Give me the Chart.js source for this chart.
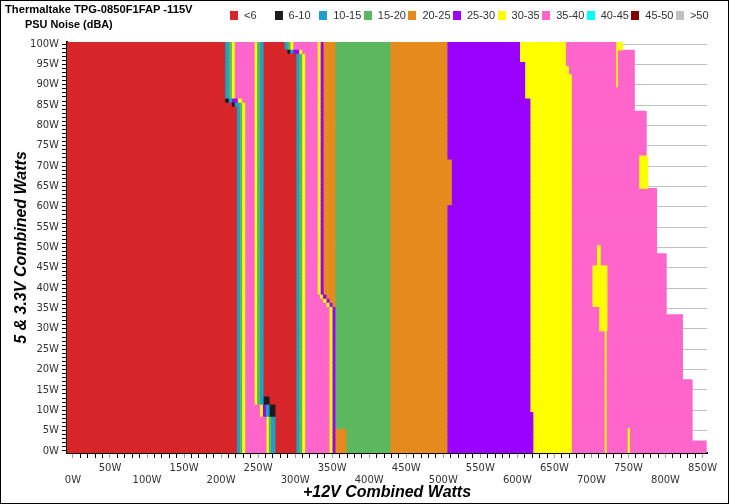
<!DOCTYPE html>
<html>
<head>
<meta charset="utf-8">
<script src="https://cdn.jsdelivr.net/npm/chart.js@4.4.1/dist/chart.umd.min.js"></script>
<style>
  html, body { margin: 0; padding: 0; background: #fff; }
  #wrap { position: relative; width: 729px; height: 504px; overflow: hidden; }
  #frame { position: absolute; left: 0; top: 0; width: 729px; height: 504px; box-sizing: border-box; border: 1px solid #000; pointer-events: none; }
  #title { position: absolute; left: 5px; top: 3px; font: bold 11.2px "Liberation Sans", Arial, sans-serif; color: #000; white-space: nowrap; }
  #subtitle { position: absolute; left: 25px; top: 18px; font: bold 10.9px "Liberation Sans", Arial, sans-serif; color: #000; white-space: nowrap; }
  #legend { position: absolute; left: 230px; top: 9px; display: flex; }
  .item { width: 44.6px; display: flex; align-items: center; font: 11px "Liberation Sans", Arial, sans-serif; color: #333; white-space: nowrap; }
  .box { width: 8px; height: 9px; margin-right: 6px; flex: none; }
</style>
</head>
<body>
<div id="wrap">
  <canvas id="myChart" width="729" height="504"></canvas>
  <div id="title">Thermaltake TPG-0850F1FAP -115V</div>
  <div id="subtitle">PSU Noise (dBA)</div>
  <div id="legend"></div>
  <div id="frame"></div>
</div>
<script>
// noise classes (dBA) and their colours
const classes = ["<6", "6-10", "10-15", "15-20", "20-25", "25-30", "30-35", "35-40", "40-45", "45-50", ">50"];
const classColors = ["#d7262a", "#1c1c1c", "#1ea0c8", "#5cb85f", "#e68a1e", "#9900ff", "#ffff00", "#ff66cc", "#00ffff", "#800000", "#c0c0c0"];

// y rows = 5V & 3.3V load (W), x = +12V load (W)
// each region: [x from, x to, first row, last row]
const noiseLt6 = [
  [-8, 205, 86, 100], [-8, 214, 85, 85], [-8, 221, 0, 84],
  [258, 285, 99, 100], [258, 289, 98, 98], [258, 301, 14, 97],
  [266, 301, 12, 13], [274, 301, 0, 11]
];
const noise6to10 = [
  [205, 210, 86, 86], [214, 218, 85, 85], [289, 293, 98, 98],
  [258, 266, 12, 13], [266, 274, 9, 11]
];
const noise10to15 = [
  [205, 210, 87, 100], [210, 214, 86, 86], [218, 224, 85, 85], [221, 225, 0, 84],
  [253, 258, 12, 100], [261, 266, 9, 11], [268, 274, 0, 8],
  [285, 289, 99, 100], [293, 297, 98, 98], [301, 305, 0, 97]
];
const noise15to20 = [
  [210, 214, 87, 100], [224, 228, 85, 85], [225, 228, 0, 84],
  [249, 253, 12, 100], [265, 268, 0, 8],
  [289, 293, 99, 100], [305, 309, 0, 97],
  [355, 428, 6, 100], [370, 428, 0, 5]
];
const noise20to25 = [
  [339, 355, 39, 100], [343, 355, 38, 38], [347, 355, 37, 37], [351, 355, 36, 36],
  [355, 370, 0, 5],
  [428, 505, 0, 100], [505, 511, 61, 71]
];
const noise25to30 = [
  [214, 222, 86, 86], [297, 305, 98, 98], [257, 261, 9, 11],
  [335, 339, 39, 100], [338, 343, 38, 38], [343, 347, 37, 37], [347, 351, 36, 36], [351, 355, 0, 35],
  [505, 603, 96, 100], [505, 610, 87, 95], [505, 617, 10, 86], [505, 621, 0, 9]
];
const noise30to35 = [
  [214, 218, 87, 100], [222, 228, 86, 86], [228, 232, 0, 85],
  [246, 249, 12, 100], [253, 257, 9, 11], [262, 265, 0, 8],
  [293, 297, 99, 100], [305, 309, 98, 98], [309, 313, 0, 97],
  [331, 335, 39, 100], [334, 338, 38, 38], [338, 343, 37, 37], [343, 347, 36, 36], [347, 351, 0, 35],
  [603, 665, 95, 100], [610, 669, 93, 94], [610, 673, 87, 92], [617, 673, 10, 86], [621, 673, 0, 9],
  [734, 742, 99, 100], [734, 735.3, 90, 98], [765, 776, 65, 72],
  [708, 712, 46, 50], [702, 721, 36, 45], [711, 721, 30, 35],
  [718.5, 719.8, 0, 29], [749.5, 751.5, 0, 5]
];
const noise35to40 = [
  [218, 246, 87, 100], [228, 246, 86, 86], [232, 246, 12, 85], [232, 253, 9, 11], [232, 262, 0, 8],
  [297, 331, 99, 100], [309, 331, 98, 98], [313, 331, 39, 97], [313, 334, 38, 38], [313, 338, 37, 37], [313, 343, 36, 36], [313, 347, 0, 35],
  [665, 734, 99, 100], [665, 758, 95, 98], [669, 758, 93, 94], [673, 758, 84, 92], [673, 774, 73, 83],
  [673, 765, 65, 72], [673, 788, 49, 64], [673, 801, 34, 48], [673, 823, 18, 33], [673, 836, 3, 17], [673, 855, 0, 2]
];
const noise40to45 = [];
const noise45to50 = [];
const noiseOver50 = [];

const regions = [noiseLt6, noise6to10, noise10to15, noise15to20, noise20to25, noise25to30,
  noise30to35, noise35to40, noise40to45, noise45to50, noiseOver50];

// rows, top to bottom
const rowValues = [];
for (let v = 100; v >= 0; v--) rowValues.push(v);

// one floating bar per row of a region
function toBars(list) {
  const out = [];
  list.forEach(([x0, x1, lo, hi]) => {
    for (let v = lo; v <= hi; v++) out.push({ x: [x0, x1], y: String(v) });
  });
  return out;
}

const tickFont = { family: "DejaVu Sans", size: 10, lineHeight: 1.2 };
const titleFont = { family: "Liberation Sans", size: 16, style: "italic", weight: "bold" };

new Chart(document.getElementById("myChart").getContext("2d"), {
  type: "bar",
  data: {
    labels: rowValues.map(String),
    datasets: classes.map((c, i) => ({
      label: c,
      data: toBars(regions[i]),
      backgroundColor: classColors[i],
      borderWidth: 0,
      barPercentage: 1,
      categoryPercentage: 1,
      grouped: false,
      inflateAmount: 0.4
    }))
  },
  options: {
    indexAxis: "y",
    responsive: false,
    animation: false,
    layout: { padding: { top: 42, right: 22, bottom: 0, left: 0 } },
    plugins: { legend: { display: false }, tooltip: { enabled: false } },
    scales: {
      x: {
        type: "linear",
        min: -8,
        max: 856,
        afterBuildTicks: (s) => {
          const t = [];
          for (let v = 0; v <= 850; v += 10) t.push({ value: v });
          s.ticks = t;
        },
        afterFit: (s) => { s.height = 51; },
        ticks: {
          autoSkip: false,
          maxRotation: 0,
          padding: 4,
          font: tickFont,
          color: "#333",
          callback: (v) => {
            if (v % 100 === 0) return ["", v + "W"];
            if (v % 50 === 0) return [v + "W", ""];
            return "";
          }
        },
        grid: {
          drawOnChartArea: false,
          tickLength: 5,
          tickColor: (ctx) => (ctx.tick && ctx.tick.value % 50 === 0 ? "#999" : "#000")
        },
        border: { color: "#000", width: 2 },
        title: { display: true, text: "+12V Combined Watts", font: titleFont, color: "#000", padding: { top: 0, bottom: 2 } }
      },
      y: {
        type: "category",
        offset: true,
        afterFit: (s) => { s.width = 67; },
        ticks: {
          autoSkip: false,
          padding: 3,
          font: tickFont,
          color: "#333",
          callback: (val, idx) => (rowValues[idx] % 5 === 0 ? rowValues[idx] + "W" : "")
        },
        grid: {
          offset: false,
          tickLength: 5,
          color: (ctx) => (ctx.index !== undefined && rowValues[ctx.index] % 5 === 0 ? "#c0c0c0" : "rgba(0,0,0,0)"),
          tickColor: "#000"
        },
        border: { color: "#000", width: 2 },
        title: { display: true, text: "5 & 3.3V Combined Watts", font: titleFont, color: "#000", padding: { top: 12, bottom: 0 } }
      }
    }
  }
});

// legend with fixed slots, like the original
const $legend = document.getElementById("legend");
classes.forEach((c, i) => {
  const item = document.createElement("div");
  item.className = "item";
  const box = document.createElement("span");
  box.className = "box";
  box.style.background = classColors[i];
  item.appendChild(box);
  item.appendChild(document.createTextNode(c));
  $legend.appendChild(item);
});
</script>
</body>
</html>
